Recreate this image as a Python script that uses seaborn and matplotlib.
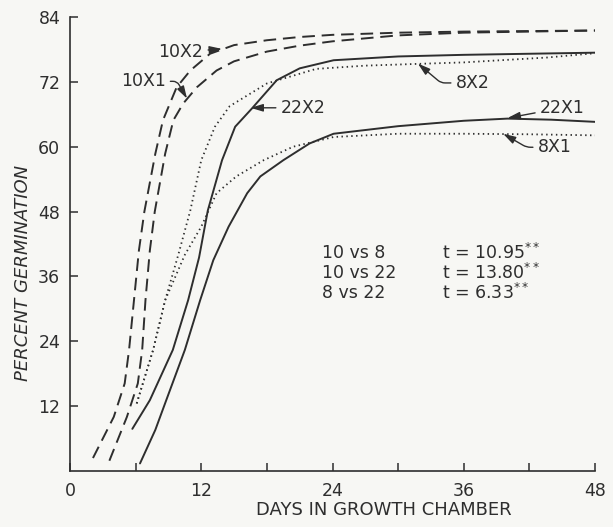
import matplotlib
matplotlib.use("Agg")
import matplotlib.pyplot as plt
import seaborn as sns
import pandas as pd

# ---------------- data ----------------
days_10x2 = [2.1, 4.0, 5.0, 5.4, 5.85, 6.3, 6.8, 7.8, 8.5, 9.75, 11.0, 12.8, 15.0, 18.0, 21.0, 24.0, 30.0, 36.0, 42.0, 48.0]
pct_10x2 = [2.4, 10.0, 16.2, 22.4, 31.6, 40.8, 48.0, 58.7, 64.9, 71.0, 74.1, 77.2, 78.8, 79.7, 80.3, 80.7, 81.1, 81.3, 81.4, 81.5]

days_10x1 = [3.6, 5.2, 6.2, 6.6, 6.9, 7.3, 7.75, 8.7, 9.45, 10.35, 11.6, 13.4, 15.0, 18.0, 21.0, 24.0, 30.0, 36.0, 42.0, 48.0]
pct_10x1 = [1.9, 10.0, 16.2, 22.4, 31.6, 40.8, 48.0, 58.7, 64.9, 68.0, 71.0, 74.1, 75.8, 77.6, 78.7, 79.5, 80.6, 81.1, 81.3, 81.5]

days_22x2 = [5.7, 7.3, 9.4, 10.8, 11.8, 12.6, 13.9, 15.1, 16.6, 18.9, 21.0, 24.1, 30.0, 36.0, 42.0, 48.0]
pct_22x2 = [7.8, 13.1, 22.4, 31.6, 39.5, 48.2, 57.5, 63.7, 67.0, 72.3, 74.5, 76.0, 76.7, 77.0, 77.2, 77.4]

days_8x2 = [6.1, 7.6, 8.7, 9.9, 11.0, 12.0, 13.25, 14.6, 18.0, 22.5, 27.0, 31.4, 36.0, 43.6, 48.0]
pct_8x2 = [12.5, 22.4, 31.6, 40.0, 48.2, 57.5, 63.7, 67.5, 71.7, 74.4, 75.0, 75.3, 75.6, 76.5, 77.3]

days_22x1 = [6.4, 7.8, 8.8, 10.5, 11.9, 13.1, 14.5, 16.2, 17.4, 19.5, 21.9, 24.1, 30.0, 36.0, 40.0, 44.0, 48.0]
pct_22x1 = [1.4, 7.6, 13.1, 22.4, 31.6, 39.0, 45.2, 51.4, 54.5, 57.5, 60.6, 62.4, 63.8, 64.8, 65.2, 65.0, 64.6]

days_8x1 = [6.1, 7.6, 8.7, 10.5, 12.0, 13.4, 15.2, 17.7, 20.4, 24.1, 30.0, 36.0, 42.0, 48.0]
pct_8x1 = [12.5, 22.4, 31.6, 40.0, 45.2, 51.4, 54.5, 57.5, 60.0, 61.8, 62.4, 62.4, 62.3, 62.1]

curve_names = ["10X2", "10X1", "22X2", "8X2", "22X1", "8X1"]
x_ticks = [0, 12, 24, 36, 48]
x_minor = [6, 18, 30, 42]
y_ticks = [12, 24, 36, 48, 60, 72, 84]
comparisons = ["10 vs 8", "10 vs 22", "8 vs 22"]
t_values = ["10.95", "13.80", "6.33"]

# ---------------- style ----------------
bg = "#f7f7f4"
ink = "#2e2e2e"
sns.set_theme(style="ticks")
plt.rcParams["font.family"] = ["DejaVu Sans"]
plt.rcParams["mathtext.default"] = "regular"

fig = plt.figure(figsize=(6.13, 5.27), dpi=100, facecolor=bg)
ax = fig.add_axes([70 / 613, 1 - 471 / 527, 525 / 613, 454 / 527])
ax.set_facecolor(bg)

dash = (0, (6.5, 3.5))
dot = (0, (0.8, 1.9))
series = [
    (days_10x2, pct_10x2, dash, 1.4),
    (days_10x1, pct_10x1, dash, 1.4),
    (days_22x2, pct_22x2, "-", 1.4),
    (days_8x2, pct_8x2, dot, 1.3),
    (days_22x1, pct_22x1, "-", 1.4),
    (days_8x1, pct_8x1, dot, 1.3),
]
for name, (d, p, ls, lw) in zip(curve_names, series):
    df = pd.DataFrame({"day": d, "pct": p})
    sns.lineplot(data=df, x="day", y="pct", ax=ax, color=ink, linewidth=lw,
                 linestyle=ls, estimator=None, sort=False)

ax.set_xlim(0, 48)
ax.set_ylim(0, 84)
sns.despine(ax=ax)
for s in ("left", "bottom"):
    ax.spines[s].set_color(ink)
    ax.spines[s].set_linewidth(1.2)

ax.set_xticks(x_ticks)
ax.set_xticks(x_minor, minor=True)
ax.set_yticks(y_ticks)
ax.tick_params(axis="both", which="both", direction="in", color=ink, width=1.1,
               labelcolor=ink, labelsize=12.5)
ax.tick_params(axis="both", which="major", length=6)
ax.tick_params(axis="x", which="minor", length=6)
ax.tick_params(axis="x", which="major", pad=8)
ax.tick_params(axis="y", which="major", pad=7)

ax.set_xlabel("DAYS IN GROWTH CHAMBER", fontsize=13, color=ink)
ax.set_ylabel("PERCENT GERMINATION", fontsize=13, color=ink, style="italic")
ax.xaxis.set_label_coords(0.598, -0.066)
ax.yaxis.set_label_coords(-0.072, 0.436)

# ---------------- curve labels with arrows ----------------
arrow = dict(arrowstyle="-|>,head_length=0.6,head_width=0.18", color=ink, lw=1.0,
             shrinkA=1, shrinkB=0)
labels = [
    ("10X2", (10.15, 77.5), (13.9, 78.1), "arc3,rad=0"),
    ("10X1", (6.7, 72.1), (10.7, 68.9), "angle,angleA=0,angleB=-60,rad=4"),
    ("22X2", (21.3, 67.2), (16.5, 67.2), "arc3,rad=0"),
    ("8X2", (36.8, 71.8), (31.8, 75.4), "angle,angleA=180,angleB=-40,rad=4"),
    ("22X1", (45.0, 67.2), (40.0, 65.3), "arc3,rad=0"),
    ("8X1", (44.3, 59.9), (39.6, 62.4), "angle,angleA=180,angleB=-30,rad=4"),
]
for txt, xyt, xy, cs in labels:
    ax.annotate(txt, xy=xy, xytext=xyt, ha="center", va="center", fontsize=12.5,
                color=ink, arrowprops=dict(arrow, connectionstyle=cs))

# ---------------- statistics block ----------------
row_y = [40.4, 36.6, 32.9]
for comp, tv, yy in zip(comparisons, t_values, row_y):
    ax.text(23.0, yy, comp, ha="left", va="center", fontsize=12.5, color=ink)
    ax.text(34.0, yy, f"t = {tv}$^{{**}}$", ha="left", va="center", fontsize=12.5, color=ink)

fig.savefig("out.png", dpi=100, facecolor=bg)
